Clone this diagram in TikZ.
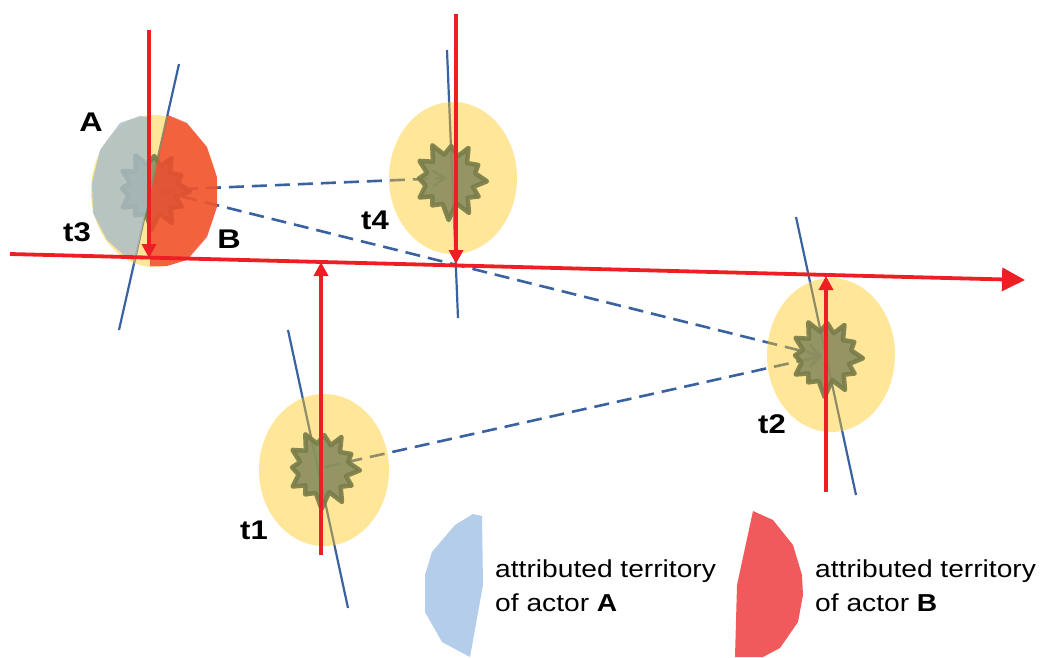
\documentclass[tikz,border=0pt]{standalone}
\usepackage{graphicx}
\usepackage{fontspec}
\setmainfont{Liberation Sans}
\usetikzlibrary{arrows.meta}
\definecolor{redl}{HTML}{EE1F24}
\definecolor{bluel}{HTML}{3B62A0}
\definecolor{yel}{HTML}{FFE699}
\definecolor{oliveline}{HTML}{8E8D68}
\definecolor{starfill}{HTML}{8B8E60}
\definecolor{stardraw}{HTML}{7A7D49}
\definecolor{terrA}{HTML}{A9BDC9}
\definecolor{terrB}{HTML}{F04B2E}
\definecolor{legA}{HTML}{B4CDEA}
\definecolor{legB}{HTML}{F05A5C}
\tikzset{
  redarrow/.style={draw=redl, line width=3.6pt, -{Triangle[length=14pt,width=14pt]}},
  mainarrow/.style={draw=redl, line width=3.8pt, -{Triangle[length=23pt,width=23pt]}},
  axisline/.style={draw=bluel, line width=2.2pt},
  linkline/.style={draw=bluel, line width=2.6pt, dash pattern=on 15pt off 8pt, -{Straight Barb[length=12pt,width=16pt]}},
  zone/.style={fill=yel},
  lbl/.style={font=\fontsize{27}{27}\selectfont\bfseries, inner sep=0pt},
  legtxt/.style={font=\fontsize{24.5}{34}\selectfont, anchor=base west, inner sep=0pt},
  burst/.pic={
    \path[fill=starfill, draw=stardraw, line width=4.5pt, line join=round, opacity=0.92]
      (92:40) -- (107:25) -- (125:31) -- (137:24) -- (150:35) -- (167:25) --
      (183:31) -- (197:24) -- (212:36) -- (227:25) -- (243:39) -- (257:26) --
      (272:34) -- (288:25) -- (300:37) -- (315:24) -- (332:32) -- (345:26) --
      (2:37) -- (17:24) -- (30:33) -- (45:25) -- (60:38) -- (75:24) -- cycle;
  }
}
\begin{document}
\begin{tikzpicture}[x=1pt, y=-1pt]
\useasboundingbox (0,0) rectangle (1042,657);
% centres
\coordinate (c3) at (153,190);
\coordinate (c4) at (450,180);
\coordinate (c2) at (826,357);
\coordinate (c1) at (323,469);
\coordinate (e3) at (154,191);
\coordinate (e4) at (453,178);
\coordinate (e2) at (831,355);
\coordinate (e1) at (324,470);
\coordinate (l3s) at (160,190);
\coordinate (l3t) at (160,191);
\coordinate (l4e) at (447,178);
\coordinate (l2e) at (822,356);
\coordinate (l1s) at (325,467);
% blue axis ends
\coordinate (b3a) at (179,64);  \coordinate (b3b) at (119,330);
\coordinate (b4a) at (447,50);  \coordinate (b4b) at (458,318);
\coordinate (b2a) at (796,217); \coordinate (b2b) at (856,495);
\coordinate (b1a) at (288,330); \coordinate (b1b) at (348,608);
% red arrows
\coordinate (r3a) at (149,30);  \coordinate (r3b) at (149,258);
\coordinate (r4a) at (456,14);  \coordinate (r4b) at (456,264);
\coordinate (r1a) at (321,555); \coordinate (r1b) at (321,262);
\coordinate (r2a) at (826,492); \coordinate (r2b) at (826,276);
\coordinate (h0) at (10,254);   \coordinate (h1) at (1025,280);

% blue lines below the zones
\draw[axisline] (b3a) -- (b3b);
\draw[axisline] (b4a) -- (b4b);
\draw[axisline] (b2a) -- (b2b);
\draw[axisline] (b1a) -- (b1b);
\draw[linkline] (l3s) -- (l4e);
\draw[linkline] (l3t) -- (l2e);
\draw[linkline] (l1s) -- (l2e);

% zones
\fill[zone] (e3) ellipse [x radius=63pt, y radius=76pt];
\fill[zone] (e4) ellipse [x radius=64pt, y radius=76pt];
\fill[zone] (e2) ellipse [x radius=64pt, y radius=77pt];
\fill[zone] (e1) ellipse [x radius=65pt, y radius=76pt];

% lines seen through the zones
\begin{scope}
  \clip (e3) ellipse [x radius=63pt, y radius=76pt]
        (e4) ellipse [x radius=64pt, y radius=76pt]
        (e2) ellipse [x radius=64pt, y radius=77pt]
        (e1) ellipse [x radius=65pt, y radius=76pt];
  \draw[axisline, draw=oliveline] (b3a) -- (b3b);
  \draw[axisline, draw=oliveline] (b4a) -- (b4b);
  \draw[axisline, draw=oliveline] (b2a) -- (b2b);
  \draw[axisline, draw=oliveline] (b1a) -- (b1b);
  \draw[linkline, draw=oliveline] (l3s) -- (l4e);
  \draw[linkline, draw=oliveline] (l3t) -- (l2e);
  \draw[linkline, draw=oliveline] (l1s) -- (l2e);
\end{scope}

% bursts
\pic at (c3) {burst};
\pic at (c4) {burst};
\pic at (c2) {burst};
\pic at (c1) {burst};

% territories of t3
\fill[terrA, opacity=0.82] (148,117) -- (140,116) -- (120,123) -- (100,150) -- (92,183) -- (93,213)
  -- (107,240) -- (127,258) -- (135,261) -- (149,197) -- cycle;
\fill[terrB, opacity=0.85] (168,115) -- (187,123) -- (207,147) -- (217,177) -- (217,207) -- (207,237)
  -- (187,260) -- (167,266) -- (150,266) -- (150,197) -- cycle;

% red arrows
\draw[mainarrow] (h0) -- (h1);
\draw[redarrow] (r3a) -- (r3b);
\draw[redarrow] (r4a) -- (r4b);
\draw[redarrow] (r1a) -- (r1b);
\draw[redarrow] (r2a) -- (r2b);

% labels
\node[lbl] (lA) at (91,122) {\scalebox{1.2}[1]{A}};
\node[lbl] (lB) at (229,239) {\scalebox{1.2}[1]{B}};
\node[lbl] (t3) at (77,232) {\scalebox{1.15}[1]{t3}};
\node[lbl] (t4) at (375,220) {\scalebox{1.15}[1]{t4}};
\node[lbl] (t2) at (772,424) {\scalebox{1.15}[1]{t2}};
\node[lbl] (t1) at (254,530) {\scalebox{1.15}[1]{t1}};

% legend
\fill[legA] (473,514) -- (482,516) -- (483,585) -- (470,657) -- (442,642) -- (425,612)
  -- (425,575) -- (432,552) -- (455,525) -- cycle;
\fill[legB] (753,511) -- (773,520) -- (793,545) -- (802,575) -- (803,595) -- (798,622)
  -- (780,648) -- (763,657) -- (735,657) -- (737,585) -- cycle;
\node[legtxt] (legA1) at (495,577) {\scalebox{1.15}[1]{attributed territory}};
\node[legtxt] (legA2) at (495,611) {\scalebox{1.15}[1]{of actor \textbf{A}}};
\node[legtxt] (legB1) at (815,577) {\scalebox{1.15}[1]{attributed territory}};
\node[legtxt] (legB2) at (815,611) {\scalebox{1.15}[1]{of actor \textbf{B}}};
\end{tikzpicture}
\end{document}
